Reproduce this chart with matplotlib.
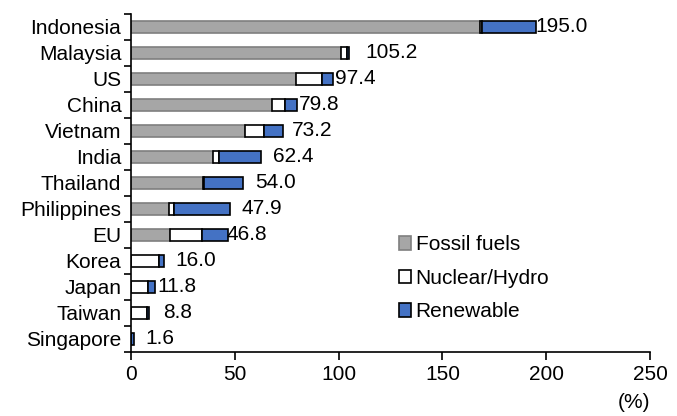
import numpy as np
import matplotlib.pyplot as plt
from matplotlib.patches import Patch

countries = ["Indonesia", "Malaysia", "US", "China", "Vietnam", "India", "Thailand",
             "Philippines", "EU", "Korea", "Japan", "Taiwan", "Singapore"]
fossil = [168.0, 101.2, 79.5, 68.0, 55.0, 39.3, 34.5, 18.5, 19.0, 0.0, 0.0, 0.0, 0.0]
nuclear_hydro = [1.0, 3.0, 12.4, 6.0, 9.0, 3.0, 0.5, 2.0, 15.4, 13.5, 8.3, 7.6, 0.0]
renewable = [26.0, 1.0, 5.5, 5.8, 9.2, 20.1, 19.0, 27.4, 12.4, 2.5, 3.5, 1.2, 1.6]
totals = [195.0, 105.2, 97.4, 79.8, 73.2, 62.4, 54.0, 47.9, 46.8, 16.0, 11.8, 8.8, 1.6]

# per-label nudge (pixels) so the numbers sit clear of neighbouring marks
label_nudge = [0, 16, 2, 2, 9, 12, 12, 11, -2, 11, 2, 14, 11]

plt.rcParams["font.family"] = ["Liberation Sans", "DejaVu Sans"]
plt.rcParams["font.size"] = 15

fig = plt.figure(figsize=(6.77, 4.16), dpi=100)
ax = fig.add_axes([131 / 677, 1 - 352 / 416, 519 / 677, 338 / 416])

y = np.arange(len(countries))
h = 0.46
series = [
    (fossil, "#a6a6a6", "#7f7f7f", "Fossil fuels"),
    (nuclear_hydro, "white", "black", "Nuclear/Hydro"),
    (renewable, "#4472c4", "black", "Renewable"),
]
left = np.zeros(len(countries))
for vals, fc, ec, name in series:
    vals = np.asarray(vals)
    keep = vals > 0
    ax.barh(y[keep], vals[keep], left=left[keep], height=h,
            color=fc, edgecolor=ec, linewidth=1.2)
    left += vals

for yi, tot, dx in zip(y, totals, label_nudge):
    ax.annotate(f"{tot:.1f}", xy=(tot, yi), xytext=(dx * 0.72, 0),
                textcoords="offset points", va="center", ha="left")

ax.set_xlim(0, 250)
ax.set_ylim(len(countries) - 0.5, -0.5)
ax.set_xticks(np.arange(0, 251, 50))
ax.set_yticks(y)
ax.set_yticklabels(countries)
ax.set_yticks(np.arange(-0.5, len(countries)), minor=True)
ax.tick_params(axis="y", which="major", length=0, pad=7)
ax.tick_params(axis="y", which="minor", length=5, width=1.2, direction="out")
ax.tick_params(axis="x", length=6, width=1.2, direction="out", pad=3)
for s in ("top", "right"):
    ax.spines[s].set_visible(False)
for s in ("left", "bottom"):
    ax.spines[s].set_linewidth(1.2)

fig.text(650 / 677, 1 - 402 / 416, "(%)", ha="right", va="center")

handles = [Patch(facecolor=fc, edgecolor=ec, linewidth=1.2, label=name)
           for _, fc, ec, name in series]
ax.legend(handles=handles, loc="upper left", bbox_to_anchor=(0.50, 0.37),
          frameon=False, handlelength=0.6, handleheight=0.6, handletextpad=0.2,
          labelspacing=0.7, borderaxespad=0)

fig.savefig("out.png", dpi=100)
